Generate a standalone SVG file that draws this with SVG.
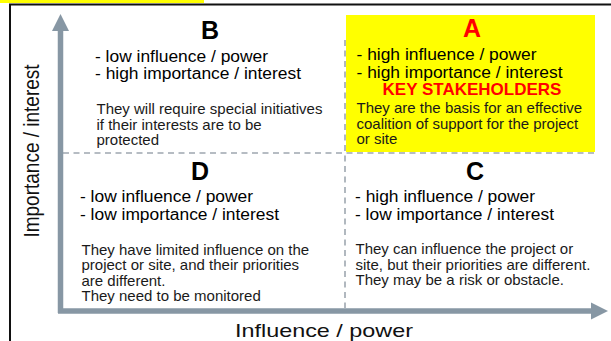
<svg xmlns="http://www.w3.org/2000/svg" width="611" height="341" viewBox="0 0 611 341">
  <style>
    text { font-family: "Liberation Sans", Arial, sans-serif; fill: #000; }
    .letter { font-size: 25px; font-weight: bold; text-anchor: middle; }
    .bullet { font-size: 16px; }
    .body { font-size: 15px; fill: #1a1a1a; }
    .red { fill: #ff0000; }
    .axislabel { font-size: 19px; text-anchor: middle; fill: #111; }
    .dash { stroke: #9ea7b0; stroke-width: 1.6; stroke-dasharray: 6 4.5; fill: none; }
    .axis { stroke: #8797a4; stroke-width: 5.5; fill: none; }
  </style>
  <defs>
    <marker id="ah" viewBox="0 0 10 10" refX="0" refY="5" markerWidth="3.1" markerHeight="3.1" orient="auto" markerUnits="strokeWidth">
      <path d="M0,0 L10,5 L0,10 Z" fill="#8797a4"/>
    </marker>
  </defs>
  <rect x="0" y="0" width="611" height="341" fill="#ffffff"/>
  <rect x="0" y="0" width="204" height="3" fill="#ffff00"/>
  <g id="frame" fill="none" stroke="#111" stroke-width="2">
    <path d="M10,341 V4.5 H611"/>
  </g>

  <g id="quadrant-A">
    <rect x="346" y="15" width="249" height="137" fill="#ffff00"/>
    <text class="letter red" x="472" y="37">A</text>
    <text class="bullet" x="356.5" y="60" textLength="180" lengthAdjust="spacingAndGlyphs">- high influence / power</text>
    <text class="bullet" x="356.5" y="77.5" textLength="206" lengthAdjust="spacingAndGlyphs">- high importance / interest</text>
    <text class="red" x="472" y="95" font-size="17" font-weight="bold" text-anchor="middle">KEY STAKEHOLDERS</text>
    <text class="body" x="356.5" y="113">They are the basis for an effective</text>
    <text class="body" x="356.5" y="128.5">coalition of support for the project</text>
    <text class="body" x="356.5" y="144">or site</text>
  </g>

  <g id="connectors">
    <path class="dash" d="M63,153 H595"/>
    <path class="dash" d="M345,40 V308"/>
    <path class="axis" d="M60.5,313 V31" marker-end="url(#ah)"/>
    <path class="axis" d="M58,311 H591" marker-end="url(#ah)"/>
  </g>

  <g id="quadrant-B">
    <text class="letter" x="210" y="39">B</text>
    <text class="bullet" x="95" y="61.5" textLength="173" lengthAdjust="spacingAndGlyphs">- low influence / power</text>
    <text class="bullet" x="95" y="78.5" textLength="206" lengthAdjust="spacingAndGlyphs">- high importance / interest</text>
    <text class="body" x="96.5" y="113.5">They will require special initiatives</text>
    <text class="body" x="96.5" y="129.5">if their interests are to be</text>
    <text class="body" x="96.5" y="145">protected</text>
  </g>

  <g id="quadrant-D">
    <text class="letter" x="200" y="180">D</text>
    <text class="bullet" x="80" y="202" textLength="173" lengthAdjust="spacingAndGlyphs">- low influence / power</text>
    <text class="bullet" x="80" y="219.5" textLength="199" lengthAdjust="spacingAndGlyphs">- low importance / interest</text>
    <text class="body" x="81.5" y="254.5">They have limited influence on the</text>
    <text class="body" x="81.5" y="270">project or site, and their priorities</text>
    <text class="body" x="81.5" y="285.5">are different.</text>
    <text class="body" x="81.5" y="301">They need to be monitored</text>
  </g>

  <g id="quadrant-C">
    <text class="letter" x="475" y="179.5">C</text>
    <text class="bullet" x="355" y="202" textLength="180" lengthAdjust="spacingAndGlyphs">- high influence / power</text>
    <text class="bullet" x="355" y="219.5" textLength="199" lengthAdjust="spacingAndGlyphs">- low importance / interest</text>
    <text class="body" x="355.5" y="254">They can influence the project or</text>
    <text class="body" x="355.5" y="269.5">site, but their priorities are different.</text>
    <text class="body" x="355.5" y="285">They may be a risk or obstacle.</text>
  </g>

  <g id="axis-labels">
    <text class="axislabel" transform="translate(38.5,151) scale(1.15,1) rotate(-90)">Importance / interest</text>
    <text class="axislabel" x="324" y="336.5" font-size="18" textLength="178" lengthAdjust="spacingAndGlyphs">Influence / power</text>
  </g>
</svg>
